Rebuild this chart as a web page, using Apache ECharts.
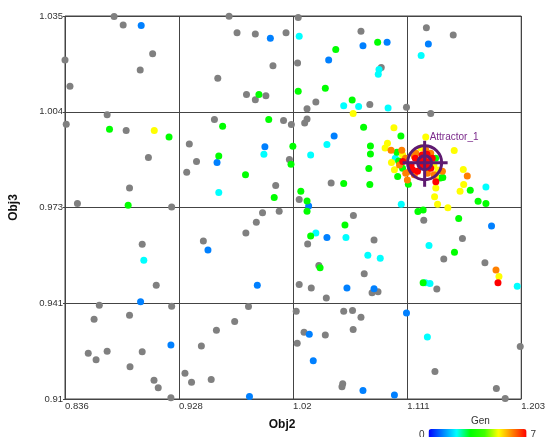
<!DOCTYPE html>
<html>
<head>
<meta charset="utf-8">
<script src="https://cdn.jsdelivr.net/npm/echarts/dist/echarts.min.js"></script>
<style>
  html, body { margin: 0; padding: 0; background: #fff; }
  #chart { width: 548px; height: 437px; }
</style>
</head>
<body>
<div id="chart"></div>
<script>
// axis ticks (Obj2 / Obj3)
var xTickValues = [0.836, 0.92775, 1.0195, 1.11125, 1.203];
var xTickLabels = ['0.836', '0.928', '1.02', '1.111', '1.203'];
var yTickValues = [0.91, 0.94125, 0.9725, 1.00375, 1.035];
var yTickLabels = ['0.91', '0.941', '0.973', '1.004', '1.035'];

// designs without a generation (grey)
var greyPoints = [
  [0.8755, 1.0348], [0.8828, 1.0321], [0.9065, 1.0227], [0.8360, 1.0206], [0.8965, 1.0174],
  [0.8400, 1.0121], [0.8699, 1.0028], [0.8370, 0.9997], [0.8852, 0.9976], [0.9031, 0.9888],
  [0.8879, 0.9789], [0.8460, 0.9738], [0.9218, 0.9727], [0.9680, 1.0349], [0.9744, 1.0295],
  [0.9891, 1.0291], [1.0033, 1.0188], [0.9589, 1.0147], [0.9820, 1.0094], [0.9891, 1.0077],
  [0.9976, 1.0090], [0.9562, 1.0012], [0.9360, 0.9932], [0.9418, 0.9875], [0.9339, 0.9840],
  [1.0055, 0.9797], [0.8981, 0.9605], [0.9094, 0.9471], [0.8636, 0.9406], [0.9218, 0.9403],
  [0.8594, 0.9360], [0.8879, 0.9373], [0.8547, 0.9249], [0.8610, 0.9228], [0.8699, 0.9256],
  [0.8981, 0.9254], [0.8883, 0.9205], [0.9076, 0.9161], [0.9110, 0.9137], [0.9212, 0.9104],
  [0.9949, 0.9708], [0.9899, 0.9677], [0.9815, 0.9642], [0.9473, 0.9616], [0.9836, 0.9402],
  [0.9725, 0.9353], [0.9578, 0.9324], [0.9457, 0.9273], [0.9325, 0.9184], [0.9378, 0.9155],
  [0.9536, 0.9164], [1.0083, 0.9713], [1.0244, 0.9751], [1.0680, 0.9699], [1.0312, 0.9606],
  [1.0846, 0.9619], [1.0402, 0.9536], [1.0767, 0.9509], [1.0244, 0.9474], [1.0341, 0.9462],
  [1.0830, 0.9447], [1.0878, 0.9450], [1.0462, 0.9430], [1.1246, 0.9683], [1.1557, 0.9624],
  [1.1407, 0.9557], [1.1738, 0.9545], [1.1351, 0.9459], [1.0220, 0.9386], [1.0602, 0.9386],
  [1.0673, 0.9389], [1.0741, 0.9367], [1.0678, 0.9327], [1.0283, 0.9318], [1.0454, 0.9309],
  [1.0228, 0.9282], [1.2022, 0.9271], [1.1336, 0.9190], [1.0594, 0.9150], [1.0588, 0.9140],
  [1.1830, 0.9134], [1.1901, 0.9102], [1.0236, 1.0345], [1.0138, 1.0295], [1.0741, 1.0300],
  [1.1267, 1.0312], [1.1483, 1.0288], [1.0231, 1.0197], [1.0904, 1.0182], [1.0378, 1.0069],
  [1.0812, 1.0061], [1.1107, 1.0052], [1.0307, 1.0047], [1.0118, 1.0009], [1.0181, 0.9996],
  [1.0307, 1.0014], [1.0288, 1.0001], [1.1302, 1.0032], [1.0165, 0.9882], [1.0501, 0.9805]
];

// points per generation
var gen1 = [
  [0.8973, 1.0319], [1.0012, 1.0277], [0.9968, 0.9923], [0.9583, 0.9872], [0.8968, 0.9417],
  [0.9212, 0.9276], [0.9510, 0.9586], [0.9907, 0.9471], [0.9844, 0.9108], [1.0320, 0.9730],
  [1.0467, 0.9627], [1.0628, 0.9462], [1.0846, 0.9460], [1.1791, 0.9665], [1.1107, 0.9381],
  [1.0325, 0.9311], [1.0357, 0.9225], [1.0757, 0.9128], [1.1010, 0.9113], [1.0757, 1.0253],
  [1.0951, 1.0264], [1.1283, 1.0259], [1.0481, 1.0206], [1.0525, 0.9958]
];
var gen2 = [
  [0.9960, 0.9899], [0.9597, 0.9774], [0.8994, 0.9553], [1.0378, 0.9642], [1.0620, 0.9627],
  [1.0796, 0.9569], [1.0896, 0.9559], [1.1065, 0.9736], [1.1288, 0.9601], [1.1998, 0.9468],
  [1.1259, 0.9479], [1.1296, 0.9477], [1.1275, 0.9302], [1.0244, 1.0284], [1.1225, 1.0221],
  [1.0886, 1.0175], [1.0880, 1.0160], [1.0602, 1.0057], [1.0722, 1.0055], [1.0959, 1.0050],
  [1.0467, 0.9931], [1.0336, 0.9896], [1.1746, 0.9792], [1.1017, 0.9886]
];
var gen3 = [
  [0.8718, 0.9980], [0.9197, 0.9955], [0.9920, 1.0094], [0.9999, 1.0012], [0.9628, 0.9990],
  [0.9597, 0.9893], [0.9812, 0.9832], [0.8868, 0.9732], [1.0043, 0.9758], [1.0307, 0.9746],
  [1.0307, 0.9713], [1.0612, 0.9668], [1.0336, 0.9632], [1.0412, 0.9528], [1.1199, 0.9712],
  [1.1241, 0.9717], [1.1683, 0.9745], [1.1746, 0.9738], [1.1527, 0.9689], [1.1493, 0.9579],
  [1.1241, 0.9479], [1.0875, 1.0264], [1.0538, 1.0241], [1.0236, 1.0104], [1.0454, 1.0114],
  [1.0670, 1.0076], [1.0762, 0.9987], [1.0193, 0.9925], [1.0178, 0.9866], [1.0817, 0.9926],
  [1.0817, 0.9900], [1.0804, 0.9852], [1.0812, 0.9800], [1.0602, 0.9803], [1.0257, 0.9778],
  [1.1062, 0.9958], [1.1620, 0.9781], [1.1030, 0.9905], [1.1044, 0.9877], [1.1075, 0.9853],
  [1.1036, 0.9826], [1.1122, 0.9801], [1.1399, 0.9823], [1.1341, 0.9886], [1.1380, 0.9821]
];
var gen5 = [
  [0.9078, 0.9976], [1.1357, 0.9736], [1.1440, 0.9724], [1.1851, 0.9500], [1.0678, 1.0032],
  [1.1006, 0.9985], [1.1491, 0.9911], [1.1564, 0.9849], [1.1567, 0.9800], [1.1538, 0.9778],
  [1.1333, 0.9760], [1.1343, 0.9789], [1.1262, 0.9955], [1.0954, 0.9935], [1.0935, 0.9919],
  [1.1075, 0.9897], [1.0986, 0.9872], [1.1010, 0.9848], [1.1223, 0.9919], [1.1328, 0.9864],
  [1.1341, 0.9826], [1.1359, 0.9847]
];
var gen6 = [
  [1.1827, 0.9521], [1.1596, 0.9828], [1.0983, 0.9912], [1.1069, 0.9912], [1.1101, 0.9837],
  [1.1114, 0.9815], [1.1396, 0.9843], [1.1051, 0.9864], [1.1170, 0.9892], [1.1183, 0.9902],
  [1.1262, 0.9913], [1.1302, 0.9902], [1.1275, 0.9837], [1.1328, 0.9832], [1.1170, 0.9832],
  [1.1130, 0.9843], [1.1099, 0.9886]
];
var gen7 = [
  [1.1843, 0.9479], [1.1343, 0.9809], [1.1077, 0.9875], [1.1144, 0.9864], [1.1156, 0.9848],
  [1.1249, 0.9880], [1.1209, 0.9875], [1.1223, 0.9859], [1.1262, 0.9859], [1.1302, 0.9853],
  [1.1314, 0.9886], [1.1288, 0.9875], [1.1196, 0.9843], [1.1178, 0.9886], [1.1272, 0.9899],
  [1.1233, 0.9896]
];

var attractor = [1.1253, 0.9871];
var attractorName = 'Attractor_1';

var font = 'Liberation Sans, Arial, sans-serif';
var purple = '#5e1a70';

function withGen(arr, g) {
  return arr.map(function (p) { return [p[0], p[1], g]; });
}
var genPoints = [].concat(
  withGen(gen1, 1), withGen(gen2, 2), withGen(gen3, 3),
  withGen(gen5, 5), withGen(gen6, 6), withGen(gen7, 7)
);

function tickLabel(values, labels) {
  return function (v) {
    for (var i = 0; i < values.length; i++) {
      if (Math.abs(values[i] - v) < 1e-6) return labels[i];
    }
    return '';
  };
}

var chart = echarts.init(document.getElementById('chart'));

chart.setOption({
  animation: false,
  title: {
    text: 'Gen',
    left: 471,
    top: 416,
    padding: 0,
    textStyle: { fontSize: 10, fontWeight: 'normal', color: '#333', fontFamily: font }
  },
  grid: {
    left: 64, top: 16, right: 19, bottom: 38,
    show: true, borderColor: '#444', borderWidth: 1, backgroundColor: '#fff'
  },
  xAxis: {
    type: 'value',
    min: 0.836,
    max: 1.203,
    name: 'Obj2',
    nameLocation: 'middle',
    nameGap: 20,
    nameTextStyle: { fontSize: 12, fontWeight: 'bold', color: '#111', fontFamily: font, padding: [0, 22, 0, 0] },
    axisLine: { show: false },
    axisTick: { show: false, customValues: xTickValues },
    axisLabel: {
      customValues: xTickValues,
      formatter: tickLabel(xTickValues, xTickLabels),
      align: 'left',
      margin: 2,
      fontSize: 9.5,
      color: '#333',
      fontFamily: font,
      showMinLabel: true,
      showMaxLabel: true
    },
    splitLine: { show: true, lineStyle: { color: '#444', width: 1 } }
  },
  yAxis: {
    type: 'value',
    min: 0.91,
    max: 1.035,
    name: 'Obj3',
    nameLocation: 'middle',
    nameGap: 45,
    nameTextStyle: { fontSize: 12, fontWeight: 'bold', color: '#111', fontFamily: font },
    axisLine: { show: false },
    axisTick: { show: true, length: 2, customValues: yTickValues, lineStyle: { color: '#444' } },
    axisLabel: {
      customValues: yTickValues,
      formatter: tickLabel(yTickValues, yTickLabels),
      verticalAlign: 'middle',
      padding: [0, 0, 8, 0],
      margin: 2,
      fontSize: 9.5,
      color: '#333',
      fontFamily: font,
      showMinLabel: true,
      showMaxLabel: true
    },
    splitLine: { show: true, lineStyle: { color: '#444', width: 1 } }
  },
  visualMap: {
    type: 'continuous',
    min: 0,
    max: 7,
    dimension: 2,
    seriesIndex: 1,
    orient: 'horizontal',
    left: 419,
    top: 429,
    itemWidth: 12,
    itemHeight: 98,
    text: ['7', '0'],
    textGap: 4,
    padding: 0,
    calculable: false,
    hoverLink: false,
    textStyle: { fontSize: 10, color: '#333', fontFamily: font },
    inRange: {
      color: ['#0000ff', '#0080ff', '#00ffff', '#00ff00', '#40ff00', '#ffff00', '#ff8000', '#ff0000']
    }
  },
  series: [
    {
      name: 'no gen',
      type: 'scatter',
      symbol: 'circle',
      symbolSize: 7,
      itemStyle: { color: '#808080', opacity: 1 },
      data: greyPoints
    },
    {
      name: 'gen',
      type: 'scatter',
      symbol: 'circle',
      symbolSize: 7,
      itemStyle: { opacity: 1 },
      data: genPoints
    },
    {
      name: attractorName,
      type: 'custom',
      clip: false,
      z: 5,
      data: [attractor],
      renderItem: function (params, api) {
        var c = api.coord([api.value(0), api.value(1)]);
        var st = { fill: 'none', stroke: purple, lineWidth: 3 };
        return {
          type: 'group',
          children: [
            { type: 'circle', shape: { cx: c[0], cy: c[1], r: 17 }, style: st },
            { type: 'circle', shape: { cx: c[0], cy: c[1], r: 7 }, style: st },
            { type: 'line', shape: { x1: c[0] - 22, y1: c[1], x2: c[0] + 23, y2: c[1] }, style: st },
            { type: 'line', shape: { x1: c[0], y1: c[1] - 22, x2: c[0], y2: c[1] + 24 }, style: st },
            {
              type: 'text',
              x: c[0] + 5,
              y: c[1] - 26,
              style: {
                text: attractorName,
                fill: '#7b2a8b',
                font: '10px ' + font,
                verticalAlign: 'middle'
              }
            }
          ]
        };
      }
    }
  ]
});
</script>
</body>
</html>
